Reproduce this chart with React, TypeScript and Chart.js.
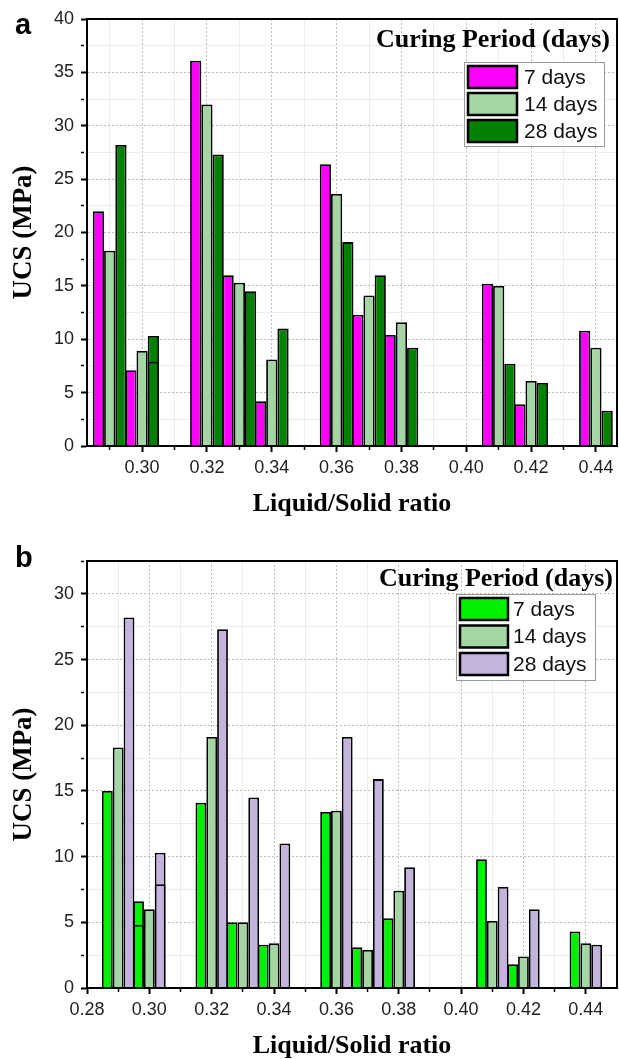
import React, { useEffect, useRef } from 'react';
import { Chart, registerables } from 'chart.js';

Chart.register(...registerables);

// ---------- data ----------
const LS_RATIOS = [0.29, 0.30, 0.32, 0.33, 0.34, 0.36, 0.37, 0.38, 0.41, 0.42, 0.44];
const SERIES_LABELS = ['7 days', '14 days', '28 days'];
const LEGEND_TITLE = 'Curing Period (days)';
const X_TITLE = 'Liquid/Solid ratio';
const Y_TITLE = 'UCS (MPa)';

// panel a
const A_UCS_7 = [22.0, 7.1, 36.1, 16.0, 4.2, 26.4, 12.3, 10.4, 15.2, 3.9, 10.8];
const A_UCS_14 = [18.3, 8.9, 32.0, 15.3, 8.1, 23.6, 14.1, 11.6, 15.0, 6.1, 9.2];
const A_UCS_28 = [28.2, 7.9, 27.3, 14.5, 11.0, 19.1, 16.0, 9.2, 7.7, 5.9, 3.3];
const A_DUP_RATIOS_28 = [0.30];
const A_DUP_UCS_28 = [10.3];

// panel b
const B_UCS_7 = [15.0, 4.8, 14.1, 5.0, 3.3, 13.4, 3.1, 5.3, 9.8, 1.8, 4.3];
const B_UCS_14 = [18.3, 6.0, 19.1, 5.0, 3.4, 13.5, 2.9, 7.4, 5.1, 2.4, 3.4];
const B_UCS_28 = [28.2, 7.9, 27.3, 14.5, 11.0, 19.1, 15.9, 9.2, 7.7, 6.0, 3.3];
const B_DUP_RATIOS_7 = [0.30];
const B_DUP_UCS_7 = [6.6];
const B_DUP_RATIOS_28 = [0.30];
const B_DUP_UCS_28 = [10.3];

// ticks
const X_MAJOR_TICKS = [0.28, 0.30, 0.32, 0.34, 0.36, 0.38, 0.40, 0.42, 0.44];
const X_MINOR_TICKS = [0.29, 0.31, 0.33, 0.35, 0.37, 0.39, 0.41, 0.43];
const A_Y_MAJOR_TICKS = [0, 5, 10, 15, 20, 25, 30, 35, 40];
const A_Y_MINOR_TICKS = [2.5, 7.5, 12.5, 17.5, 22.5, 27.5, 32.5, 37.5];
const B_Y_MAJOR_TICKS = [0, 5, 10, 15, 20, 25, 30];
const B_Y_MINOR_TICKS = [2.5, 7.5, 12.5, 17.5, 22.5, 27.5, 32.5];

// ---------- helpers ----------
const SANS = '"Liberation Sans", Arial, sans-serif';
const SERIF = '"Liberation Serif", "Times New Roman", serif';

const points = (xs: number[], ys: number[]) => xs.map((x, i) => ({ x, y: ys[i] }));
const isMajor = (v: number, majors: number[]) => majors.some((m) => Math.abs(m - v) < 1e-7);

function gridOpts(majors: number[]) {
  const maj = (c: any) => !!(c && c.tick && isMajor(c.tick.value, majors));
  return {
    grid: {
      offset: false,
      color: (c: any) => (maj(c) ? '#bdbdbd' : '#ececec'),
      lineWidth: 1,
      tickLength: 6,
      tickColor: '#000',
      tickWidth: (c: any) => (maj(c) ? 2 : 1.5),
      tickBorderDash: (c: any) => (maj(c) ? [] : [3, 30]),
    },
    border: {
      display: true,
      color: '#000',
      width: 2,
      dash: (c: any) => (maj(c) ? [2, 2] : []),
    },
  };
}

function xScale(min: number, max: number, height: number, titlePadBottom: number) {
  return {
    type: 'linear',
    min,
    max,
    offset: false,
    afterBuildTicks: (s: any) => {
      s.ticks = [...X_MAJOR_TICKS, ...X_MINOR_TICKS]
        .filter((v) => v >= min - 1e-9 && v <= max + 1e-9)
        .sort((a, b) => a - b)
        .map((v) => ({ value: v }));
    },
    afterFit: (s: any) => {
      s.height = height;
    },
    ticks: {
      autoSkip: false,
      maxRotation: 0,
      minRotation: 0,
      padding: 5,
      color: '#222',
      font: { family: SANS, size: 18 },
      callback: (v: any) => (isMajor(Number(v), X_MAJOR_TICKS) ? Number(v).toFixed(2) : ''),
    },
    ...gridOpts(X_MAJOR_TICKS),
    title: {
      display: true,
      text: X_TITLE,
      color: '#000',
      font: { family: SERIF, size: 26, weight: 'bold', lineHeight: 1 },
      padding: { top: 0, bottom: titlePadBottom },
    },
  };
}

function yScale(max: number, majors: number[], minors: number[], width: number) {
  return {
    type: 'linear',
    min: 0,
    max,
    stacked: false,
    afterBuildTicks: (s: any) => {
      s.ticks = [...majors, ...minors].sort((a, b) => a - b).map((v) => ({ value: v }));
    },
    afterFit: (s: any) => {
      s.width = width;
    },
    ticks: {
      autoSkip: false,
      padding: 7,
      color: '#222',
      font: { family: SANS, size: 18 },
      callback: (v: any) => (isMajor(Number(v), majors) ? String(v) : ''),
    },
    ...gridOpts(majors),
    title: {
      display: true,
      text: Y_TITLE,
      color: '#000',
      font: { family: SERIF, size: 27, weight: 'bold', lineHeight: 1 },
      padding: { top: 11, bottom: 0 },
    },
  };
}

function barSet(label: string, data: any[], color: string, stack: string) {
  return {
    label,
    data,
    backgroundColor: color,
    borderColor: '#000',
    borderWidth: 1.8,
    stack,
    barPercentage: 1,
    categoryPercentage: 1.04,
  };
}

const decorPlugin = {
  id: 'panelDecor',
  afterDatasetsDraw(chart: any, _args: any, o: any) {
    const { ctx, chartArea: ca } = chart;
    ctx.save();
    // frame
    ctx.strokeStyle = '#000';
    ctx.lineWidth = 2;
    ctx.strokeRect(ca.left, ca.top, ca.right - ca.left, ca.bottom - ca.top);
    // legend title
    ctx.fillStyle = '#000';
    ctx.font = `bold 26px ${SERIF}`;
    ctx.textAlign = 'right';
    ctx.textBaseline = 'middle';
    ctx.fillText(LEGEND_TITLE, ca.right + o.titleDx, ca.top + o.titleDy);
    // legend box
    const bx = ca.right + o.boxRight - o.boxW;
    const by = ca.top + o.boxTop;
    ctx.fillStyle = '#fff';
    ctx.fillRect(bx, by, o.boxW, o.boxH);
    ctx.strokeStyle = '#9a9a9a';
    ctx.lineWidth = 1;
    ctx.strokeRect(bx + 0.5, by + 0.5, o.boxW, o.boxH);
    const sets = chart.data.datasets.slice(0, SERIES_LABELS.length);
    sets.forEach((ds: any, i: number) => {
      const sx = bx + o.inset;
      const sy = by + o.inset + i * o.rowStep;
      ctx.fillStyle = ds.backgroundColor;
      ctx.fillRect(sx, sy, o.swatchW, o.swatchH);
      ctx.strokeStyle = '#000';
      ctx.lineWidth = 2.5;
      ctx.strokeRect(sx, sy, o.swatchW, o.swatchH);
      ctx.fillStyle = '#111';
      ctx.font = `21px ${SANS}`;
      ctx.textAlign = 'left';
      ctx.textBaseline = 'middle';
      ctx.fillText(ds.label, bx + o.textDx, sy + o.swatchH / 2 + 1);
    });
    // panel letter
    ctx.fillStyle = '#000';
    ctx.font = `bold 29px ${SANS}`;
    ctx.textAlign = 'left';
    ctx.textBaseline = 'alphabetic';
    ctx.fillText(o.letter, o.letterX, o.letterY);
    ctx.restore();
  },
};

function configA() {
  return {
    type: 'bar',
    data: {
      datasets: [
        barSet(SERIES_LABELS[0], points(LS_RATIOS, A_UCS_7), '#ff00ff', 's7'),
        barSet(SERIES_LABELS[1], points(LS_RATIOS, A_UCS_14), '#a3d6a3', 's14'),
        barSet(SERIES_LABELS[2], points(LS_RATIOS, A_UCS_28), '#008200', 's28'),
        barSet(SERIES_LABELS[2], points(A_DUP_RATIOS_28, A_DUP_UCS_28), '#008200', 's28'),
      ],
    },
    options: {
      responsive: false,
      animation: false,
      events: [],
      layout: { padding: { top: 19, right: 2, left: 0, bottom: 0 } },
      scales: {
        x: xScale(0.283, 0.4465, 84, 13),
        y: yScale(40, A_Y_MAJOR_TICKS, A_Y_MINOR_TICKS, 87),
      },
      plugins: {
        legend: { display: false },
        tooltip: { enabled: false },
        panelDecor: {
          letter: 'a', letterX: 15, letterY: 34,
          titleDx: -7, titleDy: 21,
          boxRight: -13, boxTop: 43, boxW: 140, boxH: 84,
          inset: 4, rowStep: 27, swatchW: 49, swatchH: 22, textDx: 60,
        },
      },
    },
    plugins: [decorPlugin],
  };
}

function configB() {
  return {
    type: 'bar',
    data: {
      datasets: [
        barSet(SERIES_LABELS[0], points(LS_RATIOS, B_UCS_7), '#00f000', 's7'),
        barSet(SERIES_LABELS[1], points(LS_RATIOS, B_UCS_14), '#a3d6a3', 's14'),
        barSet(SERIES_LABELS[2], points(LS_RATIOS, B_UCS_28), '#c2b4dc', 's28'),
        barSet(SERIES_LABELS[0], points(B_DUP_RATIOS_7, B_DUP_UCS_7), '#00f000', 's7'),
        barSet(SERIES_LABELS[2], points(B_DUP_RATIOS_28, B_DUP_UCS_28), '#c2b4dc', 's28'),
      ],
    },
    options: {
      responsive: false,
      animation: false,
      events: [],
      layout: { padding: { top: 31, right: 2, left: 0, bottom: 0 } },
      scales: {
        x: xScale(0.28, 0.45, 71, 0),
        y: yScale(32.5, B_Y_MAJOR_TICKS, B_Y_MINOR_TICKS, 87),
      },
      plugins: {
        legend: { display: false },
        tooltip: { enabled: false },
        panelDecor: {
          letter: 'b', letterX: 15, letterY: 37,
          titleDx: -4, titleDy: 18,
          boxRight: -22, boxTop: 33, boxW: 139, boxH: 86,
          inset: 4, rowStep: 27.5, swatchW: 48, swatchH: 22, textDx: 57,
        },
      },
    },
    plugins: [decorPlugin],
  };
}

function Panel({ make, top, height }: { make: () => any; top: number; height: number }) {
  const ref = useRef<HTMLCanvasElement | null>(null);
  useEffect(() => {
    if (!ref.current) return;
    const chart = new Chart(ref.current, make());
    return () => chart.destroy();
  }, []);
  return (
    <canvas
      ref={ref}
      width={619}
      height={height}
      style={{ position: 'absolute', left: 0, top, width: 619, height, display: 'block' }}
    />
  );
}

export default function App() {
  return (
    <div style={{ position: 'absolute', left: 0, top: 0, width: 619, height: 1059, background: '#fff', overflow: 'hidden' }}>
      <Panel make={configA} top={0} height={530} />
      <Panel make={configB} top={530} height={529} />
    </div>
  );
}
